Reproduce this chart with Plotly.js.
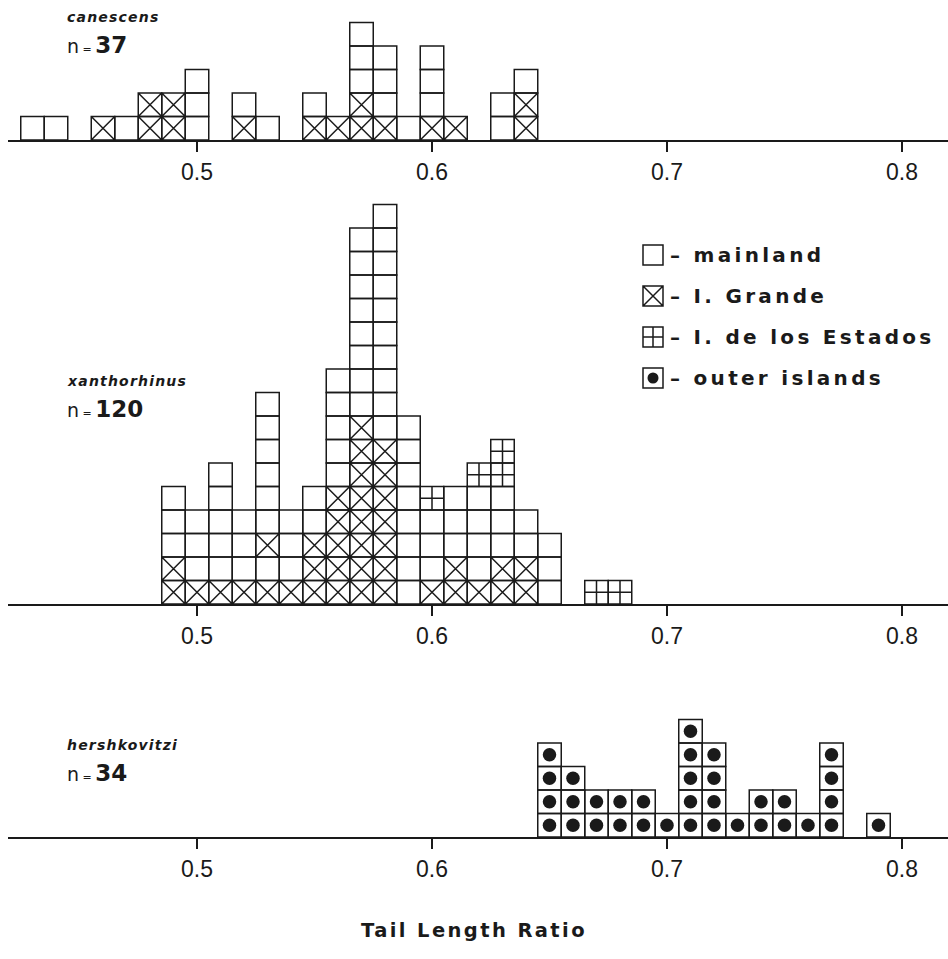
<!DOCTYPE html>
<html><head><meta charset="utf-8">
<script src="https://cdn.plot.ly/plotly-3.0.1.min.js"></script>
<style>html,body{margin:0;padding:0;background:#fff}</style>
</head><body><div id="chart" style="width:948px;height:959px"></div>
<script>
// ---------- data ----------
// stack letters, bottom to top: M = mainland, G = I. Grande, E = I. de los Estados, O = outer islands
const speciesNames = ["canescens", "xanthorhinus", "hershkovitzi"];

const canescensBins = [0.43,0.44,0.46,0.47,0.48,0.49,0.50,0.52,0.53,0.55,0.56,0.57,0.58,0.59,0.60,0.61,0.63,0.64];
const canescensStacks = ["M","M","G","M","GG","GG","MMM","GM","M","GM","G","GGMMM","GMMM","M","GMMM","G","MM","GGM"];

const xanthorhinusBins = [0.49,0.50,0.51,0.52,0.53,0.54,0.55,0.56,0.57,0.58,0.59,0.60,0.61,0.62,0.63,0.64,0.65,0.67,0.68];
const xanthorhinusStacks = ["GGMMM","GMMM","GMMMMM","GMMM","GMGMMMMMM","GMMM","GGGMM","GGGGGMMMMM",
  "GGGGGGGGMMMMMMMM","GGGGGGGMMMMMMMMMM","MMMMMMMM","GMMME","GGMMM","GMMMME","GGMMMEE","GGMM","MMM","E","E"];

const hershkovitziBins = [0.65,0.66,0.67,0.68,0.69,0.70,0.71,0.72,0.73,0.74,0.75,0.76,0.77,0.79];
const hershkovitziStacks = ["OOOO","OOO","OO","OO","OO","O","OOOOO","OOOO","O","OO","OO","O","OOOO","O"];

const tickValues = [0.5, 0.6, 0.7, 0.8];
const tickLabels = ["0.5", "0.6", "0.7", "0.8"];
const legendKeys = ["M", "G", "E", "O"];
const legendLabels = ["– mainland", "– I. Grande", "– I. de los Estados", "– outer islands"];
const xTitle = "Tail Length Ratio";

// ---------- styling / layout constants ----------
const W = 948, H = 959, UNIT = 23.5;          // px per 0.01 and per specimen
const X_LEFT_PX = 8, X05_PX = 197;
const baselines = [140, 604, 837];
const tops = [0, 190, 690];
const xRange = [0.5 - (X05_PX - X_LEFT_PX) / (UNIT * 100), 0.5 + (W - X05_PX) / (UNIT * 100)];
const INK = "#1a1a1a";
const symbols = {M: "square-open", G: "square-x-open", E: "square-cross-open", O: "square-open"};

const panels = [
  {bins: canescensBins, stacks: canescensStacks},
  {bins: xanthorhinusBins, stacks: xanthorhinusStacks},
  {bins: hershkovitziBins, stacks: hershkovitziStacks}
];

const traces = [];
const layout = {
  width: W, height: H, margin: {l: 0, r: 0, t: 0, b: 0},
  paper_bgcolor: "#fff", plot_bgcolor: "rgba(0,0,0,0)",
  showlegend: false, annotations: []
};

panels.forEach((p, i) => {
  const xa = i === 0 ? "x" : "x" + (i + 1);
  const ya = i === 0 ? "y" : "y" + (i + 1);
  const groups = {M: {x: [], y: []}, G: {x: [], y: []}, E: {x: [], y: []}, O: {x: [], y: []}};
  p.bins.forEach((b, j) => {
    p.stacks[j].split("").forEach((c, k) => {
      groups[c].x.push(b);
      groups[c].y.push(k + 0.5);
    });
  });
  Object.keys(groups).forEach(c => {
    if (!groups[c].x.length) return;
    traces.push({
      type: "scatter", mode: "markers", xaxis: xa, yaxis: ya, cliponaxis: false,
      x: groups[c].x, y: groups[c].y, hoverinfo: "skip",
      marker: {symbol: symbols[c], size: UNIT, color: INK, line: {width: 1.5, color: INK}}
    });
    if (c === "O") {
      traces.push({
        type: "scatter", mode: "markers", xaxis: xa, yaxis: ya, cliponaxis: false,
        x: groups[c].x, y: groups[c].y, hoverinfo: "skip",
        marker: {symbol: "circle", size: 13.5, color: INK, line: {width: 0}}
      });
    }
  });
  const n = p.stacks.reduce((s, st) => s + st.length, 0);
  const axKey = i === 0 ? "xaxis" : "xaxis" + (i + 1);
  const ayKey = i === 0 ? "yaxis" : "yaxis" + (i + 1);
  layout[axKey] = {
    domain: [X_LEFT_PX / W, 1], range: xRange, anchor: ya,
    showgrid: false, zeroline: false, showline: true, linecolor: INK, linewidth: 2,
    ticks: "outside", ticklen: 10, tickwidth: 2, tickcolor: INK,
    tickvals: tickValues, ticktext: tickLabels,
    tickfont: {family: "Liberation Sans, Arial, sans-serif", size: 23, color: INK}
  };
  layout[ayKey] = {
    domain: [1 - baselines[i] / H, 1 - tops[i] / H],
    range: [0, (baselines[i] - tops[i]) / UNIT], anchor: xa, visible: false
  };
  const labelTopPx = [17, 381, 745][i];
  layout.annotations.push({
    xref: "paper", yref: "paper", x: 65 / W, y: 1 - labelTopPx / H,
    xanchor: "left", yanchor: "middle", showarrow: false,
    text: '<span style="letter-spacing:1.2px">' + speciesNames[i] + '</span>',
    font: {family: "DejaVu Sans, sans-serif", size: 14, style: "italic", weight: "bold", color: INK}
  });
  layout.annotations.push({
    xref: "paper", yref: "paper", x: 65 / W, y: 1 - (labelTopPx + 28) / H,
    xanchor: "left", yanchor: "middle", showarrow: false,
    text: 'n<span style="font-size:11px"> = </span><b><span style="font-size:23px">' + n + '</span></b>',
    font: {family: "DejaVu Sans, sans-serif", size: 19, color: INK}
  });
});

// legend drawn on a pixel-scaled helper axis
layout.xaxis4 = {domain: [0, 1], range: [0, W], anchor: "y4", visible: false};
layout.yaxis4 = {domain: [0, 1], range: [H, 0], anchor: "x4", visible: false};
const legX = legendKeys.map(() => 653);
const legY = legendKeys.map((_, i) => 255 + i * 41);
legendKeys.forEach((k, i) => {
  traces.push({
    type: "scatter", mode: "markers", xaxis: "x4", yaxis: "y4", hoverinfo: "skip",
    x: [legX[i]], y: [legY[i]],
    marker: {symbol: symbols[k], size: 20, color: INK, line: {width: 1.5, color: INK}}
  });
  if (k === "O") {
    traces.push({
      type: "scatter", mode: "markers", xaxis: "x4", yaxis: "y4", hoverinfo: "skip",
      x: [legX[i]], y: [legY[i]],
      marker: {symbol: "circle", size: 11, color: INK, line: {width: 0}}
    });
  }
  layout.annotations.push({
    xref: "x4", yref: "y4", x: 668, y: legY[i], xanchor: "left", yanchor: "middle",
    showarrow: false,
    text: '<span style="letter-spacing:3.3px">' + legendLabels[i] + '</span>',
    font: {family: "DejaVu Sans, sans-serif", size: 20, weight: "bold", color: INK}
  });
});

layout.annotations.push({
  xref: "paper", yref: "paper", x: 474 / W, y: 1 - 930 / H, xanchor: "center", yanchor: "middle",
  showarrow: false,
  text: '<span style="letter-spacing:2.4px">' + xTitle + '</span>',
  font: {family: "DejaVu Sans, sans-serif", size: 19.5, weight: "bold", color: INK}
});

Plotly.newPlot("chart", traces, layout, {staticPlot: true, displayModeBar: false});
</script>
</body></html>
